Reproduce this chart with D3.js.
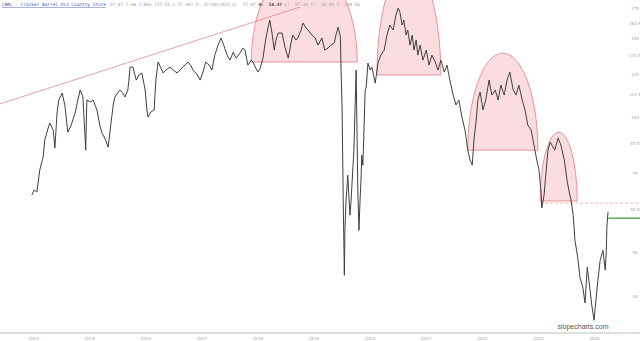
<!DOCTYPE html>
<html>
<head>
<meta charset="utf-8">
<script src="https://cdn.jsdelivr.net/npm/d3@7"></script>
<style>
  body { margin: 0; background: #fff; }
</style>
</head>
<body>
<script>
// CBRL price history (decimal year, close)
var priceSeries = [
  [2013.98,67.3],[2014.02,69.1],[2014.07,68.4],[2014.12,76.5],[2014.18,81.8],[2014.21,89.3],[2014.27,95.0],[2014.30,97.4],
  [2014.36,94.0],[2014.39,85.7],[2014.43,103.1],[2014.46,109.7],[2014.52,113.7],[2014.57,106.4],[2014.62,93.0],[2014.68,96.4],
  [2014.75,102.6],[2014.80,109.7],[2014.84,115.4],[2014.89,111.4],[2014.94,84.8],[2014.96,109.7],[2015.02,108.6],[2015.07,109.7],
  [2015.14,104.2],[2015.19,96.4],[2015.23,92.5],[2015.28,90.2],[2015.34,86.1],[2015.39,97.4],[2015.43,106.9],[2015.46,111.4],
  [2015.52,114.2],[2015.55,115.4],[2015.60,113.7],[2015.64,111.4],[2015.69,115.4],[2015.71,121.5],[2015.73,129.9],[2015.78,129.9],
  [2015.84,121.5],[2015.89,124.7],[2015.94,126.0],[2016.00,115.4],[2016.03,104.2],[2016.05,100.5],[2016.10,103.1],[2016.16,104.2],
  [2016.19,121.5],[2016.23,133.3],[2016.28,129.2],[2016.32,126.0],[2016.37,127.9],[2016.44,129.9],[2016.50,127.9],[2016.57,126.0],
  [2016.62,127.9],[2016.67,129.9],[2016.73,131.9],[2016.76,133.3],[2016.82,130.6],[2016.85,127.9],[2016.92,125.3],[2016.98,121.5],
  [2017.03,126.6],[2017.08,133.3],[2017.14,131.2],[2017.19,127.9],[2017.24,138.1],[2017.30,145.4],[2017.35,150.8],[2017.40,145.4],
  [2017.46,138.1],[2017.51,134.6],[2017.57,140.2],[2017.62,136.0],[2017.69,139.5],[2017.74,143.2],[2017.78,141.7],[2017.83,131.2],
  [2017.89,134.6],[2017.92,133.3],[2017.97,129.2],[2018.01,126.6],[2018.05,129.2],[2018.10,136.0],[2018.14,147.7],[2018.17,154.7],
  [2018.22,165.4],[2018.26,154.7],[2018.30,141.7],[2018.33,149.2],[2018.37,154.7],[2018.44,154.7],[2018.49,143.9],[2018.55,136.0],
  [2018.60,147.0],[2018.63,153.1],[2018.69,149.2],[2018.72,150.8],[2018.78,157.1],[2018.81,162.9],[2018.87,158.7],[2018.90,157.1],
  [2018.97,153.1],[2019.03,150.8],[2019.08,145.4],[2019.15,150.8],[2019.20,141.7],[2019.26,143.2],[2019.31,145.4],[2019.37,147.0],
  [2019.40,153.1],[2019.44,159.5],[2019.48,151.5],[2019.49,129.9],[2019.51,104.2],[2019.53,65.6],[2019.55,44.6],[2019.56,56.2],
  [2019.58,65.6],[2019.60,70.9],[2019.61,74.6],[2019.63,67.3],[2019.65,60.7],[2019.67,65.6],[2019.69,72.7],[2019.72,84.8],
  [2019.76,127.9],[2019.79,69.1],[2019.81,56.2],[2019.83,65.6],[2019.85,74.6],[2019.86,82.7],[2019.88,78.5],[2019.90,94.0],
  [2019.92,115.4],[2019.94,117.2],[2019.97,132.6],[2020.01,127.9],[2020.04,129.9],[2020.10,119.6],[2020.15,132.6],[2020.20,138.1],
  [2020.26,141.7],[2020.31,153.1],[2020.36,161.2],[2020.42,157.1],[2020.47,169.7],[2020.51,175.9],[2020.54,172.3],[2020.58,161.2],
  [2020.61,165.4],[2020.65,153.1],[2020.68,157.1],[2020.72,145.4],[2020.76,153.1],[2020.79,141.7],[2020.83,149.2],[2020.86,138.1],
  [2020.90,145.4],[2020.95,134.6],[2021.01,141.7],[2021.06,131.2],[2021.11,138.1],[2021.17,133.3],[2021.22,127.9],[2021.27,134.6],
  [2021.33,126.6],[2021.38,131.2],[2021.43,121.5],[2021.49,112.5],[2021.54,106.9],[2021.59,109.7],[2021.65,100.0],[2021.70,94.0],
  [2021.75,84.8],[2021.79,80.6],[2021.83,78.5],[2021.86,89.3],[2021.90,98.9],[2021.93,109.7],[2021.97,114.2],[2022.02,104.2],
  [2022.07,109.7],[2022.13,121.5],[2022.18,112.5],[2022.24,115.4],[2022.29,109.7],[2022.34,118.4],[2022.40,112.5],[2022.45,121.5],
  [2022.50,126.6],[2022.56,115.4],[2022.61,112.5],[2022.66,118.4],[2022.72,109.7],[2022.77,104.2],[2022.82,96.4],[2022.88,94.0],
  [2022.93,87.0],[2022.98,80.6],[2023.02,76.5],[2023.06,67.3],[2023.07,63.0],[2023.11,67.3],[2023.14,74.6],[2023.18,84.8],
  [2023.22,88.4],[2023.25,87.0],[2023.30,84.8],[2023.36,90.2],[2023.41,87.0],[2023.47,80.6],[2023.52,72.7],[2023.55,69.1],
  [2023.59,65.6],[2023.63,60.7],[2023.66,53.4],[2023.71,48.9],[2023.75,44.1],[2023.80,42.0],[2023.84,38.7],[2023.88,46.5],
  [2023.93,41.3],[2023.96,38.3],[2024.00,35.4],[2024.04,39.9],[2024.07,43.5],[2024.11,48.2],[2024.16,50.7],[2024.20,45.8],
  [2024.22,50.7],[2024.23,57.4],[2024.25,61.7]
];

var yearTicks = [2014, 2015, 2016, 2017, 2018, 2019, 2020, 2021, 2022, 2023, 2024];
var priceTicks = [175, 162.5, 150, 137.5, 125, 112.5, 100, 87.5, 75, 62.5, 50, 40];

// drawn annotations, in data units
var trendLine = [[2013.41, 107.5], [2018.76, 176.8]];
var arches = [
  { start: 2017.89, end: 2019.78, base: 133.3, top: 221.6 },
  { start: 2020.13, end: 2021.27, base: 124.7, top: 219.4 },
  { start: 2021.75, end: 2023.00, base: 84.8, top: 139.5 },
  { start: 2023.04, end: 2023.70, base: 65.3, top: 93.0 }
];
var dashedLevel = { start: 2023.04, price: 64.6 };
var lastPrice = { start: 2024.25, price: 59.8 };

var titleText = "CBRL - Cracker Barrel Old Country Store";
var quoteText = ["57.97 1.06 1.86% (57.55 x 57.99) D: 07/08/2025 O:  57.97 ", "H:  58.47", " L:  57.34 C:  58.43 T: 148.56"];

var width = 640,
    height = 341,
    axisY = 333;

var svg = d3.select("body").append("svg")
    .attr("width", width)
    .attr("height", height)
    .style("display", "block");

var x = d3.scaleLinear().domain([2014, 2024]).range([33, 594]);
var y = d3.scaleLog().domain([40, 175]).range([296.5, 9]);

svg.append("clipPath").attr("id", "plot")
  .append("rect").attr("x", 0).attr("y", 0).attr("width", width).attr("height", axisY);

var plot = svg.append("g").attr("clip-path", "url(#plot)");

// rounded tops (half ellipses on a flat base)
plot.selectAll("path.arch")
    .data(arches)
    .enter()
    .append("path")
    .attr("class", "arch")
    .attr("d", function (d) {
        var x0 = x(d.start), x1 = x(d.end), yb = y(d.base), yt = y(d.top);
        var rx = (x1 - x0) / 2, ry = yb - yt;
        return "M" + x0 + "," + yb + " A" + rx + "," + ry + " 0 0 1 " + x1 + "," + yb + " Z";
    })
    .style("fill", "rgba(240,125,140,0.26)")
    .style("stroke", "#e27a86")
    .style("stroke-width", 0.8);

// trend line
plot.append("line")
    .attr("x1", x(trendLine[0][0])).attr("y1", y(trendLine[0][1]))
    .attr("x2", x(trendLine[1][0])).attr("y2", y(trendLine[1][1]))
    .style("stroke", "#e07880")
    .style("stroke-width", 0.7);

// dashed support level
plot.append("line")
    .attr("x1", x(dashedLevel.start)).attr("y1", y(dashedLevel.price))
    .attr("x2", width).attr("y2", y(dashedLevel.price))
    .style("stroke", "#f0a0a8")
    .style("stroke-width", 0.8)
    .style("stroke-dasharray", "3,2");

// price series
var line = d3.line()
    .x(function (d) { return x(d[0]); })
    .y(function (d) { return y(d[1]); });

plot.append("path")
    .datum(priceSeries)
    .attr("d", line)
    .style("fill", "none")
    .style("stroke", "#404040")
    .style("stroke-width", 1)
    .style("stroke-linejoin", "round");

// last price marker
plot.append("line")
    .attr("x1", x(lastPrice.start)).attr("y1", y(lastPrice.price))
    .attr("x2", width).attr("y2", y(lastPrice.price))
    .style("stroke", "#63b563")
    .style("stroke-width", 1.6);

// right price labels
svg.append("g").selectAll("text")
    .data(priceTicks)
    .enter()
    .append("text")
    .attr("x", 635)
    .attr("y", function (d) { return y(d) + 1.4; })
    .attr("text-anchor", "middle")
    .style("font-family", "DejaVu Sans, sans-serif")
    .style("font-size", "4px")
    .style("fill", "#a0a0a0")
    .text(function (d) { return d; });

// bottom axis
var xAxis = d3.axisBottom(x)
    .tickValues(yearTicks)
    .tickFormat(d3.format("d"))
    .tickSize(0)
    .tickPadding(4);

var gx = svg.append("g").attr("transform", "translate(0," + axisY + ")").call(xAxis);
gx.select(".domain").remove();
gx.selectAll("text")
    .style("font-family", "DejaVu Sans, sans-serif")
    .style("font-size", "4px")
    .style("fill", "#a0a0a0");

svg.append("line")
    .attr("x1", 0).attr("x2", width)
    .attr("y1", axisY).attr("y2", axisY)
    .style("stroke", "#bdbdbd")
    .style("stroke-width", 1);

// watermark
svg.append("text")
    .attr("x", 583)
    .attr("y", 328.5)
    .attr("text-anchor", "middle")
    .style("font-family", "Liberation Sans, Arial, sans-serif")
    .style("font-size", "7px")
    .style("fill", "#555")
    .text("slopecharts.com");

// header
svg.append("text")
    .attr("x", 2)
    .attr("y", 6)
    .attr("textLength", 104)
    .attr("lengthAdjust", "spacingAndGlyphs")
    .style("font-family", "DejaVu Sans Mono, monospace")
    .style("font-size", "4.4px")
    .style("fill", "#3b55b8")
    .style("text-decoration", "underline")
    .text(titleText);

var quote = svg.append("text")
    .attr("x", 110)
    .attr("y", 6)
    .attr("textLength", 250)
    .attr("lengthAdjust", "spacingAndGlyphs")
    .style("font-family", "DejaVu Sans Mono, monospace")
    .style("font-size", "4.4px")
    .style("fill", "#a0a0a0")
    .attr("xml:space", "preserve")
    .style("white-space", "pre");

quote.selectAll("tspan")
    .data(quoteText)
    .enter()
    .append("tspan")
    .style("font-weight", function (d, i) { return i === 1 ? "bold" : "normal"; })
    .style("fill", function (d, i) { return i === 1 ? "#444" : null; })
    .text(function (d) { return d; });
</script>
</body>
</html>
